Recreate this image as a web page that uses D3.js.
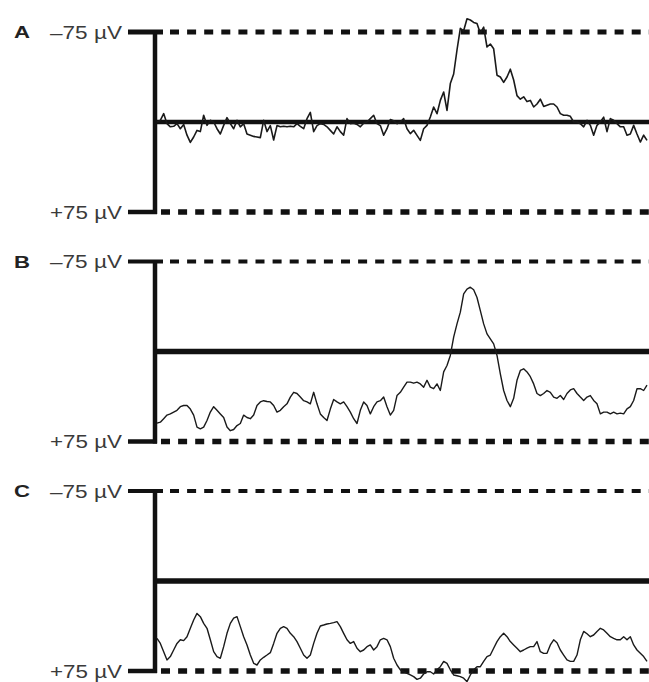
<!DOCTYPE html>
<html>
<head>
<meta charset="utf-8">
<script src="https://cdn.jsdelivr.net/npm/d3@7"></script>
<style>
  html, body { margin: 0; padding: 0; background: #fff; }
  svg { display: block; }
</style>
</head>
<body>
<svg id="chart" width="649" height="682"></svg>
<script>
// Panel names and amplitude limits (negative up, as in EEG convention)
const panelLabels = ["A", "B", "C"];
const tickLabels = ["–75 µV", "+75 µV"];
const limits = [-75, 75];

// Recorded traces, µV, equally spaced samples
const waveA = [
  0, -1.4, -7, 1.4, 4, 3.6, 1.4, 5.6, 2, 11,
  17, 12.5, 7, 8, -5.6, 2.8, -1.4, 0, 5.6, 10,
  2.8, -3.6, 1.4, 5.6, -1.4, 4, 1.4, 10, 11, 12,
  12.5, 13, -1.4, 8, 3, 15, 3, 4, 3.6, 4,
  3.6, 4, 1.4, 3.6, 5.6, -2.8, -8, 8, 3, 1.4,
  2, 4, 7, 10, 4, 8, 11, -2.8, 1.4, 1,
  2, 4, 1, 0, -2.8, -5.6, 1.4, 3, 11, 5.6,
  -2, -1, 1.4, 0,
  -2.8, 5.6, 9.7, 6.9, 11.1, 15.3, 5.6, 2.8, -4.2, -12.5,
  -6.9, -18, -25, -9.7, -32, -40, -60, -78, -76, -86,
  -85, -83, -82, -74, -79, -62.5, -65, -61, -39, -37.5,
  -33, -37.5, -44, -35, -22, -19, -21, -17, -18, -12.5,
  -15, -19, -13, -14, -15, -15, -12.5, -7, -5.6, -5.6,
  -4.7, 0, 0, 1.4, 4, -1.4, 2.8, 11, 2.8, 0,
  -4, 8, -2.8, -1.4, 1.4, 4, 4, 11, 10, 2.8,
  10, 16.7, 11, 15.3
];

const waveB = [
  59.7, 58.9, 56, 53, 52, 50.5, 49, 46, 45, 45,
  48, 53, 63, 64.4, 63, 57.5, 50.5, 46, 49, 52,
  55, 63, 66, 65, 61.7, 60, 53, 55, 56, 53,
  45, 42, 41, 41.7, 42, 45, 50.5, 49, 46, 43.6,
  38, 34, 35, 38, 41, 42, 43.6, 34, 43.6, 52,
  55, 57.5, 48, 40, 42, 43.6, 42, 46, 50.5, 56,
  60, 49, 42, 45, 52, 46, 42, 41, 38, 46,
  53, 49, 36.7, 34,
  29.7, 25.5, 25.5, 26.4, 25.5, 27, 29.7, 24, 29.7, 31,
  27, 32.5, 17, 11.7, 3.3, -12, -23, -32.8, -48, -52,
  -53.6, -51.4, -45, -34, -23, -14.7, -10.6, -6.4, 3.3, 18.6,
  32.5, 40.8, 46, 39, 24, 15.8, 14.4, 17, 21, 27,
  35, 36.7, 35, 32.5, 34, 38, 39, 36.7, 40, 35,
  32, 31, 35, 38, 40.8, 38, 36.7, 40.8, 43.6, 52,
  50.5, 50.5, 52, 50.5, 52, 51.4, 52, 47.8, 46, 40.8,
  31, 31, 32.5, 28
];

const waveC = [
  47.8, 52, 58.9, 65.8, 63, 57.5, 52, 49, 49.7, 46.4,
  39.4, 32.5, 27, 29.7, 35.3, 39.4, 49, 58.9, 63, 64.4,
  54.7, 43.6, 35.3, 31, 29.7, 38, 46.4, 53.3, 61.7, 68.6,
  70, 65.8, 63.6, 61.7, 59.7, 52, 43.6, 39.4, 38, 39.4,
  43.6, 46.4, 50.5, 56, 61.7, 64.4, 61.7, 52, 43.6, 37.5,
  36.7, 35.8, 35.3, 34.7, 33.9, 38, 43.6, 49, 52, 50.5,
  56, 58.9, 57.5, 54.7, 53.3, 57.5, 54.7, 49, 47.8, 49,
  54.7, 64.4, 70, 74,
  75.6, 77, 78.3, 79.7, 82, 81, 77.5, 75.6, 75.6, 77.5,
  74, 71.4, 67, 68.6, 74, 78.3, 79, 79.7, 81, 83.9,
  78.3, 74, 71.4, 71.4, 67, 63, 61.7, 56, 50.5, 46.4,
  43.6, 46.4, 50.5, 53.3, 56, 58.9, 57.5, 56, 54.7, 54.7,
  50.5, 58.9, 60.3, 60.3, 53.3, 49, 51.4, 57.5, 61.7, 65.8,
  67, 67, 61.7, 49, 42, 44, 46.4, 45, 42, 39.4,
  40.8, 43.6, 46.4, 47.8, 49, 49, 46.4, 49, 46.4, 53.3,
  57.5, 60.3, 63, 67
];

const waves = [waveA, waveB, waveC];

// Per-panel stroke weights
const topWeight = [5, 4, 4];
const midWeight = [4.5, 5.5, 5.5];
const traceWeight = [1.6, 1.4, 1.4];

const W = 649;
const axisX = 155;
const tickStart = 128;
const panelHeight = 180;
const panelStep = 229.5;
const firstTop = 32;

const svg = d3.select("#chart");
const x = d3.scaleLinear().domain([0, waveA.length - 1]).range([157, 647]);

panelLabels.forEach((name, i) => {
  const top = firstTop + i * panelStep;
  const y = d3.scaleLinear().domain(limits).range([top, top + panelHeight]);
  const g = svg.append("g");

  // dashed limit lines
  g.append("line")
    .attr("x1", 170).attr("x2", W)
    .attr("y1", y(limits[0])).attr("y2", y(limits[0]))
    .attr("stroke", "#111").attr("stroke-width", topWeight[i])
    .attr("stroke-dasharray", "9,8.1");
  g.append("line")
    .attr("x1", 161).attr("x2", W)
    .attr("y1", y(limits[1])).attr("y2", y(limits[1]))
    .attr("stroke", "#111").attr("stroke-width", 5.5)
    .attr("stroke-dasharray", "9,8.1");

  // zero line
  g.append("line")
    .attr("x1", axisX).attr("x2", W)
    .attr("y1", y(0)).attr("y2", y(0))
    .attr("stroke", "#111").attr("stroke-width", midWeight[i]);

  // tick marks at the limits
  g.append("line")
    .attr("x1", tickStart).attr("x2", 163)
    .attr("y1", y(limits[0])).attr("y2", y(limits[0]))
    .attr("stroke", "#111").attr("stroke-width", topWeight[i]);
  g.append("line")
    .attr("x1", tickStart).attr("x2", axisX + 2)
    .attr("y1", y(limits[1])).attr("y2", y(limits[1]))
    .attr("stroke", "#111").attr("stroke-width", 4.5);

  // vertical amplitude axis
  g.append("line")
    .attr("x1", axisX).attr("x2", axisX)
    .attr("y1", y(limits[0])).attr("y2", y(limits[1]) + 2)
    .attr("stroke", "#111").attr("stroke-width", 4.5);

  // tick labels
  limits.forEach((v, k) => {
    g.append("text")
      .attr("x", 122).attr("y", y(v) + 6.5)
      .attr("text-anchor", "end")
      .attr("font-family", "Liberation Sans, Arial, sans-serif")
      .attr("font-size", 18)
      .attr("fill", "#3a3a3a")
      .attr("textLength", 72)
      .attr("lengthAdjust", "spacingAndGlyphs")
      .text(tickLabels[k]);
  });

  // panel letter
  g.append("text")
    .attr("x", 14).attr("y", y(limits[0]) + 6)
    .attr("font-family", "Liberation Sans, Arial, sans-serif")
    .attr("font-weight", "bold")
    .attr("font-size", 17)
    .attr("fill", "#222")
    .attr("textLength", 16)
    .attr("lengthAdjust", "spacingAndGlyphs")
    .text(name);

  // trace
  const line = d3.line()
    .x((d, j) => x(j))
    .y(d => y(d));
  g.append("path")
    .datum(waves[i])
    .attr("d", line)
    .attr("fill", "none")
    .attr("stroke", "#1a1a1a")
    .attr("stroke-width", traceWeight[i])
    .attr("stroke-linejoin", "round");
});
</script>
</body>
</html>
